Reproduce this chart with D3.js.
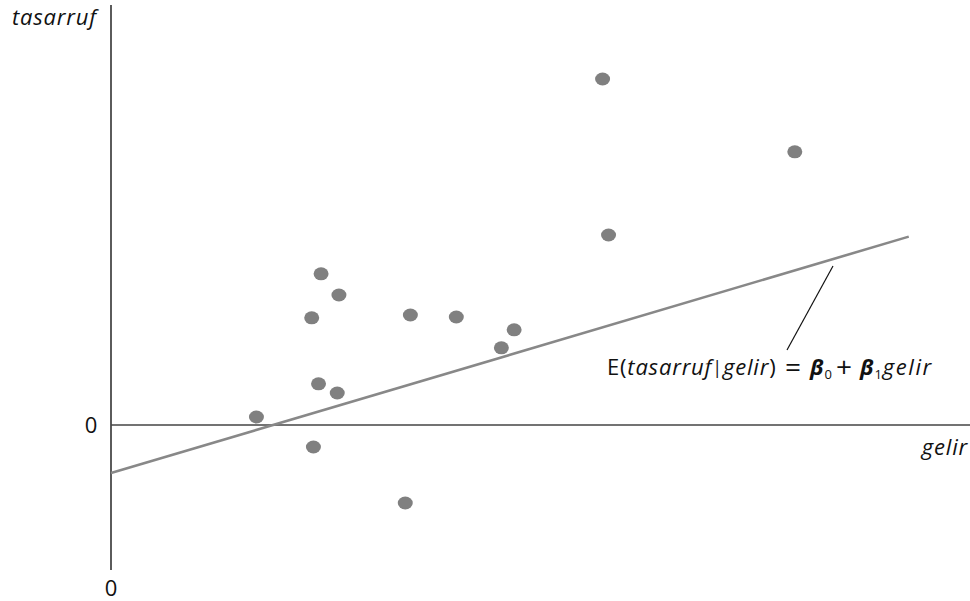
<!DOCTYPE html>
<html><head><meta charset="utf-8">
<script src="https://cdn.jsdelivr.net/npm/d3@7"></script>
<style>body{margin:0;background:#fff}svg{display:block}text{font-family:"Open Sans",sans-serif;fill:#111}</style>
</head><body><svg id="c" width="970" height="601"></svg>
<script>
// gelir (income) and tasarruf (savings) observations
const gelir    = [17.1, 23.8, 23.6, 24.7, 26.8, 24.4, 26.6, 34.6, 35.2, 40.6, 45.9, 47.4, 57.8, 58.5, 80.4];
const tasarruf = [2.0, -5.5, 26.8, 37.8, 32.5, 10.3, 8.0, -19.5, 27.5, 27.0, 19.3, 23.8, 86.5, 47.5, 68.3];
const beta0 = -12, beta1 = 0.63;
const lineX = [0, 93.8];
const xLabel = "gelir", yLabel = "tasarruf";

const svg = d3.select("#c");
const x = d3.scaleLinear().domain([0, 101]).range([111, 970]);
const y = d3.scaleLinear().domain([-36.25, 105]).range([570, 5]);
const FS = 22, LS = 0.8;

// y axis
svg.append("line").attr("x1", x(0)).attr("x2", x(0)).attr("y1", y(105)).attr("y2", y(-36.25))
  .attr("stroke", "#333").attr("stroke-width", 1.6);
// zero line
svg.append("line").attr("x1", x(0)).attr("x2", x(101)).attr("y1", y(0)).attr("y2", y(0))
  .attr("stroke", "#444").attr("stroke-width", 1.6);

// regression line
svg.append("line").attr("x1", x(lineX[0])).attr("y1", y(beta0 + beta1 * lineX[0]))
  .attr("x2", x(lineX[1])).attr("y2", y(beta0 + beta1 * lineX[1]))
  .attr("stroke", "#888").attr("stroke-width", 2.6);

// points
svg.selectAll("ellipse").data(gelir).join("ellipse")
  .attr("cx", (d) => x(d)).attr("cy", (d, i) => y(tasarruf[i]))
  .attr("rx", 7.5).attr("ry", 6.5).attr("fill", "#808080");

// labels
svg.append("text").attr("x", 12).attr("y", 25).attr("font-style", "italic").attr("font-size", FS).attr("letter-spacing", LS).text(yLabel);
svg.append("text").attr("x", 968).attr("y", 455).attr("text-anchor", "end").attr("font-style", "italic").attr("font-size", FS).attr("letter-spacing", LS).text(xLabel);
svg.append("text").attr("x", 91).attr("y", 433).attr("text-anchor", "middle").attr("font-size", FS).text("0");
svg.append("text").attr("x", x(0)).attr("y", 596).attr("text-anchor", "middle").attr("font-size", FS).text("0");

// leader line
svg.append("line").attr("x1", 833).attr("y1", 266).attr("x2", 787).attr("y2", 350)
  .attr("stroke", "#111").attr("stroke-width", 1.2);

// equation
const eq = svg.append("text").attr("y", 375).attr("font-size", FS).attr("letter-spacing", LS);
eq.append("tspan").attr("x", 607).text("E(");
eq.append("tspan").attr("font-style", "italic").text("tasarruf");
eq.append("tspan").attr("font-size", 18).attr("dy", -1).text("|");
eq.append("tspan").attr("dy", 1).attr("font-style", "italic").text("gelir");
eq.append("tspan").text(")");
eq.append("tspan").attr("x", 785).attr("font-size", 28).attr("dy", 2).text("=");
eq.append("tspan").attr("x", 810).attr("dy", -2).attr("font-style", "italic").attr("font-weight", "bold").text("β");
eq.append("tspan").attr("font-size", 13).attr("dy", 4).text("0");
eq.append("tspan").attr("x", 836).attr("dy", -2).attr("font-size", 28).text("+");
eq.append("tspan").attr("x", 860).attr("dy", -2).attr("font-style", "italic").attr("font-weight", "bold").text("β");
eq.append("tspan").attr("font-size", 13).attr("dy", 4).text("1");
eq.append("tspan").attr("dy", -4).attr("font-style", "italic").attr("letter-spacing", 1.6).text("gelir");
</script></body></html>
